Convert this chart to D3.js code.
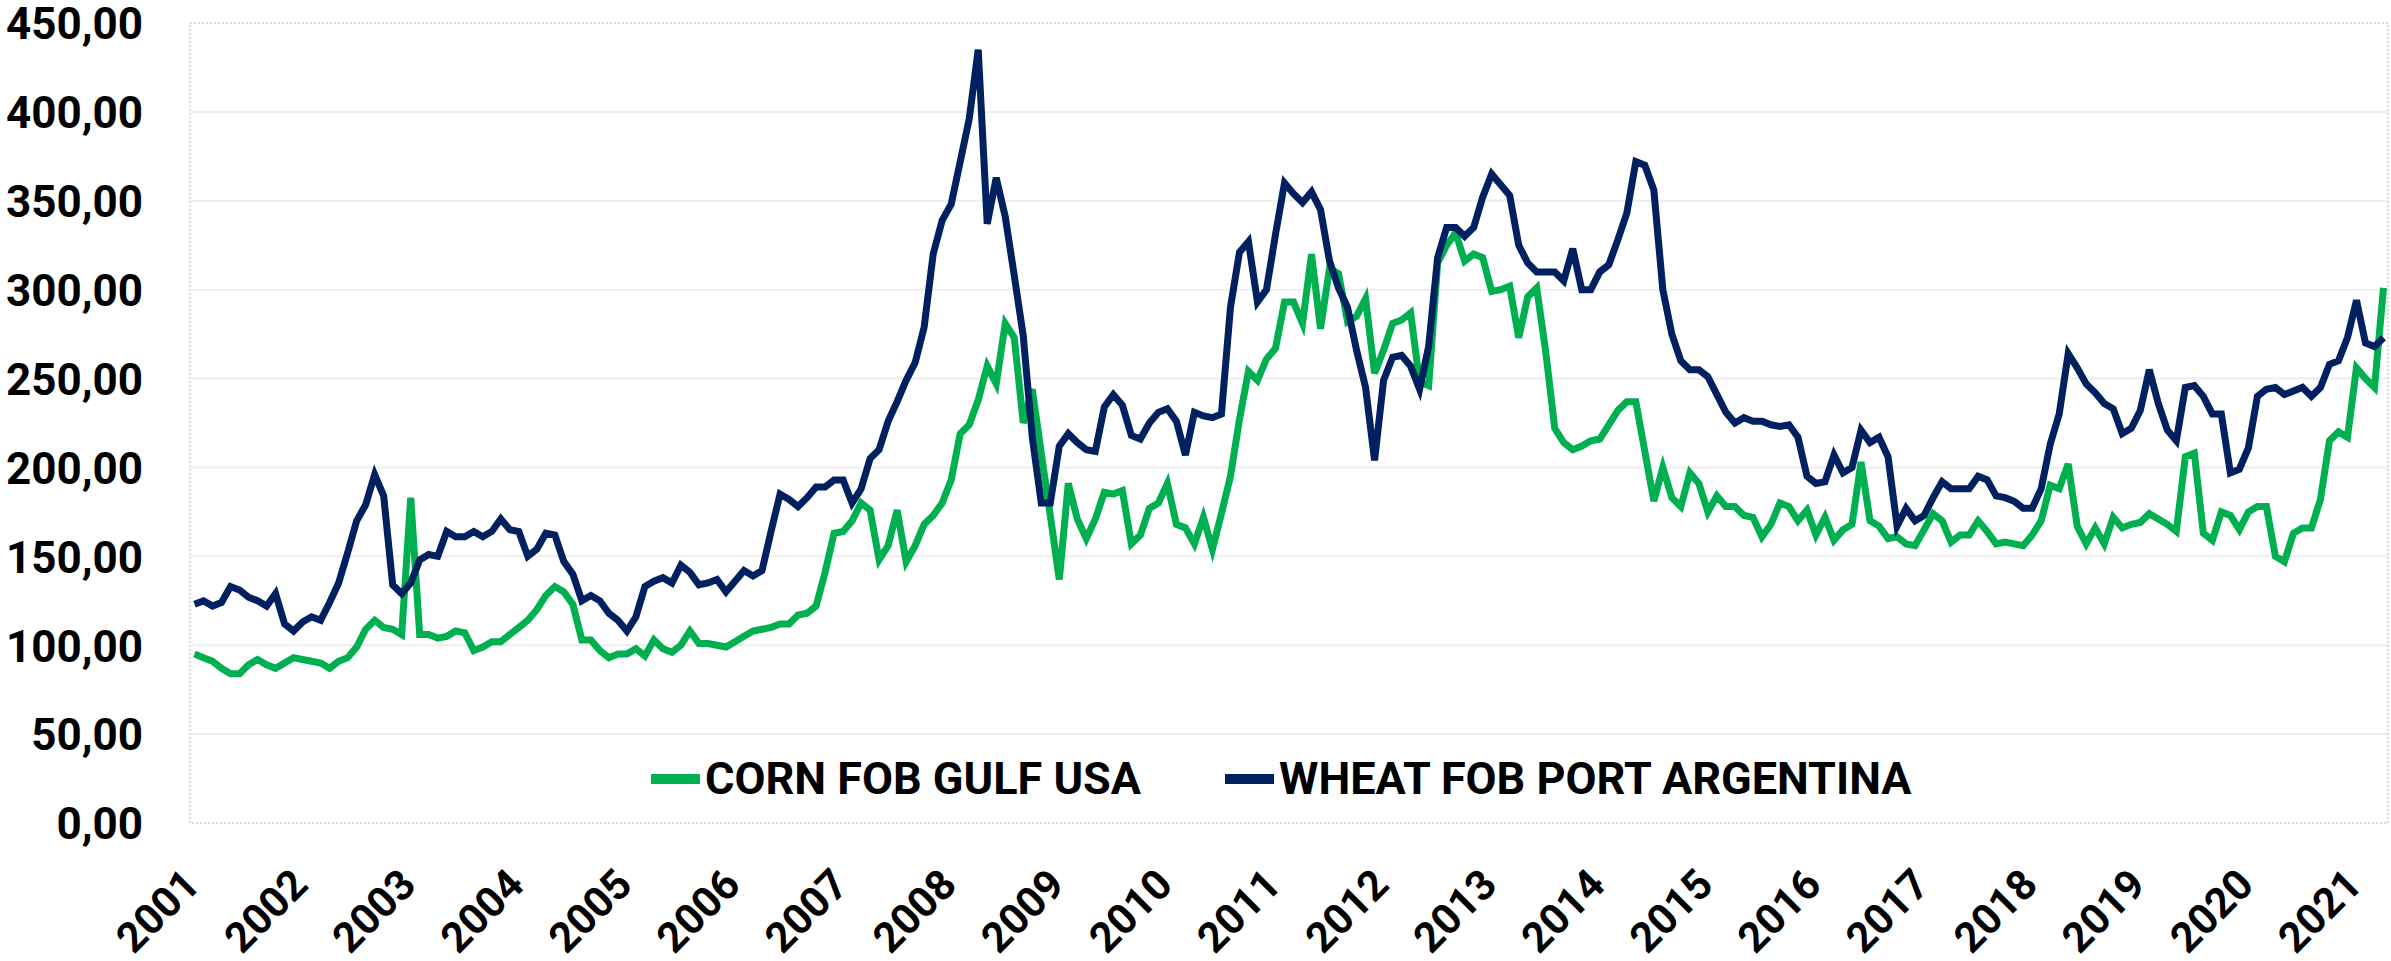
<!DOCTYPE html>
<meta charset="utf-8">
<style>
    body { margin: 0; background: #fff; }
    text { font-family: Roboto, "Liberation Sans", sans-serif; font-weight: 700; fill: #000; }
    .axis .domain { display: none; }
</style>
<svg width="2391" height="961"></svg>
<script src="https://cdn.jsdelivr.net/npm/d3@7/dist/d3.min.js"></script>
<script>
    // monthly prices, Jan 2001 .. Apr 2021 (one row per year)
    var corn = [
        95, 93, 91, 87, 84, 84, 89, 92, 89, 87, 90, 93,
        92, 91, 90, 87, 91, 93, 99, 109, 114, 110, 109, 106,
        183, 106, 106, 104, 105, 108, 107, 97, 99, 102, 102, 106,
        110, 114, 120, 128, 133, 130, 123, 103, 103, 97, 93, 95,
        95, 98, 94, 103, 98, 96, 100, 108, 101, 101, 100, 99,
        102, 105, 108, 109, 110, 112, 112, 117, 118, 122, 141, 163,
        164, 170, 180, 176, 148, 156, 176, 147, 156, 168, 173, 180,
        193, 219, 224, 238, 257, 247, 281, 273, 225, 244, 208, 173,
        137, 191, 171, 160, 171, 186, 185, 187, 157, 162, 177, 180,
        191, 168, 166, 157, 172, 154, 174, 195, 227, 254, 249, 261,
        267, 293, 293, 281, 320, 278, 312, 309, 282, 285, 295, 253,
        266, 281, 283, 287, 248, 246, 315, 325, 332, 316, 320, 318,
        299, 300, 302, 273, 296, 301, 265, 222, 214, 210, 212, 215,
        216, 224, 232, 237, 237, 209, 181, 200, 183, 178, 197, 191,
        175, 184, 178, 178, 173, 172, 161, 168, 180, 178, 170, 176,
        162, 172, 159, 165, 168, 203, 170, 167, 160, 161, 157, 156,
        165, 174, 170, 158, 162, 162, 170, 164, 157, 158, 157, 156,
        162, 170, 190, 188, 202, 167, 157, 166, 157, 172, 166, 168,
        169, 174, 171, 168, 164, 206, 208, 163, 159, 175, 173, 165,
        175, 178, 178, 150, 147, 163, 166, 166, 182, 215, 220, 217,
        256, 250, 245, 301
    ];
    var wheat = [
        123, 125, 122, 124, 133, 131, 127, 125, 122, 129, 112, 108,
        113, 116, 114, 124, 135, 152, 170, 179, 196, 184, 134, 129,
        135, 148, 151, 150, 164, 161, 161, 164, 161, 164, 171, 165,
        164, 150, 154, 163, 162, 147, 140, 125, 128, 125, 118, 114,
        108, 116, 133, 136, 138, 135, 145, 141, 134, 135, 137, 130,
        136, 142, 139, 142, 164, 185, 182, 178, 183, 189, 189, 193,
        193, 180, 188, 205, 210, 226, 237, 249, 259, 279, 320, 339,
        348, 372, 396, 435, 337, 363, 341, 308, 274, 217, 180, 180,
        212, 219, 214, 210, 209, 234, 241, 235, 218, 216, 225, 231,
        233, 226, 207, 231, 229, 228, 230, 290, 321, 327, 293, 300,
        331, 360, 354, 349, 355, 345, 316, 301, 290, 266, 245, 204,
        249, 262, 263, 257, 244, 268, 318, 335, 335, 330, 335, 352,
        365, 359, 353, 325, 315, 310, 310, 310, 305, 323, 300, 300,
        310, 314, 328, 343, 372, 370, 356, 300, 275, 260, 255, 255,
        251, 241, 231, 225, 228, 226, 226, 224, 223, 224, 217, 195,
        191, 192, 207, 197, 200, 221, 214, 217, 206, 167, 177, 170,
        173, 183, 192, 188, 188, 188, 195, 193, 184, 183, 181, 177,
        177, 188, 213, 230, 264, 256, 247, 242, 236, 233, 219, 222,
        232, 255, 236, 221, 215, 245, 246, 240, 230, 230, 197, 199,
        211, 240, 244, 245, 241, 243, 245, 240, 245, 258, 260, 273,
        294, 270, 268, 273
    ];
    var years = ["2001", "2002", "2003", "2004", "2005", "2006", "2007", "2008", "2009", "2010", "2011",
        "2012", "2013", "2014", "2015", "2016", "2017", "2018", "2019", "2020", "2021"];
    var yTicks = [0, 50, 100, 150, 200, 250, 300, 350, 400, 450];
    var names = ["CORN FOB GULF USA", "WHEAT FOB PORT ARGENTINA"];

    var cornColor = "#00b050",
        wheatColor = "#002060";

    var svg = d3.select("svg"),
        margin = { top: 23, right: 3, bottom: 138, left: 190 },
        width = +svg.attr("width") - margin.left - margin.right,
        height = +svg.attr("height") - margin.top - margin.bottom,
        g = svg.append("g").attr("transform", "translate(" + margin.left + "," + margin.top + ")");

    var x = d3.scalePoint()
        .domain(d3.range(corn.length))
        .range([0, width])
        .padding(0.5);

    var y = d3.scaleLinear()
        .domain([0, 450])
        .range([height, 0]);

    // 450,00 style numbers
    var locale = d3.formatLocale({ decimal: ",", thousands: ".", grouping: [3], currency: ["", ""] });
    var fmt = locale.format(".2f");

    // gridlines
    g.append("g")
        .selectAll("line")
        .data(yTicks.slice(1, -1))
        .enter().append("line")
        .attr("x1", 0)
        .attr("x2", width)
        .attr("y1", function (d) { return y(d); })
        .attr("y2", function (d) { return y(d); })
        .attr("stroke", "#eeeeee")
        .attr("stroke-width", 2);

    // plot area border
    g.append("rect")
        .attr("width", width)
        .attr("height", height)
        .attr("fill", "none")
        .attr("stroke", "#d9d9d9")
        .attr("stroke-width", 2)
        .attr("stroke-dasharray", "2,2");

    g.append("g")
        .attr("class", "axis")
        .call(d3.axisLeft(y).tickValues(yTicks).tickSize(0).tickPadding(47).tickFormat(fmt))
        .selectAll("text")
        .style("font-size", "44px")
        .attr("dy", "0.36em");

    var janIdx = years.map(function (d, i) { return i * 12; });

    g.append("g")
        .attr("class", "axis")
        .attr("transform", "translate(0," + height + ")")
        .call(d3.axisBottom(x).tickValues(janIdx).tickSize(0).tickFormat(function (d) { return years[d / 12]; }))
        .selectAll("text")
        .style("font-size", "42px")
        .attr("text-anchor", "end")
        .attr("x", 0)
        .attr("y", 0)
        .attr("dy", 0)
        .attr("transform", "translate(7,64) rotate(-45)");

    var line = d3.line()
        .x(function (d, i) { return x(i); })
        .y(function (d) { return y(d); });

    g.append("path")
        .datum(corn)
        .attr("fill", "none")
        .attr("stroke", cornColor)
        .attr("stroke-width", 7)
        .attr("d", line);

    g.append("path")
        .datum(wheat)
        .attr("fill", "none")
        .attr("stroke", wheatColor)
        .attr("stroke-width", 7)
        .attr("d", line);

    // legend
    var legend = svg.append("g");
    var legendX = [651, 1225];
    var legendColors = [cornColor, wheatColor];

    var item = legend.selectAll("g")
        .data(names)
        .enter().append("g")
        .attr("transform", function (d, i) { return "translate(" + legendX[i] + ",779)"; });

    item.append("rect")
        .attr("y", -5)
        .attr("width", 49)
        .attr("height", 10)
        .attr("fill", function (d, i) { return legendColors[i]; });

    item.append("text")
        .attr("x", 54)
        .attr("y", 15)
        .style("font-size", "45px")
        .text(function (d) { return d; });
</script>
